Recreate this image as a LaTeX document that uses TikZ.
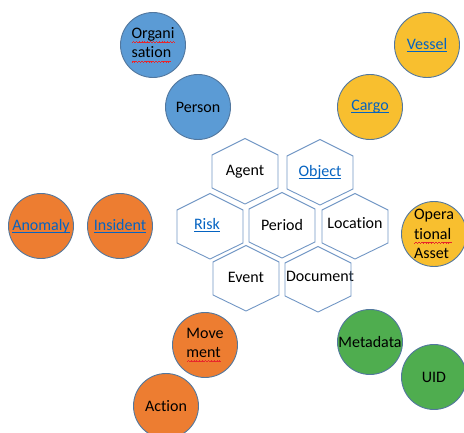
\documentclass[tikz,border=0pt]{standalone}
\usepackage{fontspec}
\setmainfont{Carlito}[Ligatures=NoCommon]

\definecolor{blueball}{HTML}{5B9BD5}
\definecolor{orangeball}{HTML}{ED7D31}
\definecolor{goldball}{HTML}{F8BF2F}
\definecolor{greenball}{HTML}{4FAD4F}
\definecolor{ringline}{HTML}{52779E}
\definecolor{hexline}{HTML}{7196C4}
\definecolor{linkblue}{HTML}{0563C1}
\definecolor{typored}{HTML}{E8262B}

% red spelling wave and link underline
\newcommand\wavebit{\hbox{\rule[-4.6pt]{0.7pt}{0.75pt}\rule[-4.0pt]{0.7pt}{0.75pt}\rule[-3.4pt]{0.7pt}{0.75pt}\rule[-4.0pt]{0.7pt}{0.75pt}}}
\newcommand\typo[1]{\setbox0\hbox{#1}\rlap{\textcolor{typored}{\hbox to\wd0{\xleaders\wavebit\hfill}}}\box0}
\newcommand\link[1]{\setbox0\hbox{#1}\textcolor{linkblue}{\rlap{\rule[-2.6pt]{\wd0}{1.1pt}}\box0}}

\tikzset{
  ball/.style={circle, draw=ringline, line width=0.9pt, fill=#1, minimum size=65pt, inner sep=0pt},
  cell/.style={inner sep=0pt},
  cellline/.style={draw=hexline, line width=0.9pt}
}

\begin{document}
\begin{tikzpicture}[x=1pt, y=-1pt, every node/.style={font=\fontsize{16}{19.5}\selectfont}]
\useasboundingbox (0,0) rectangle (464,433);

% middle cells
\node[cell] (agent) at (245,172) {Agent};
\node[cell] (object) at (320,172) {\link{Object}};
\node[cell] (risk) at (207,225) {\link{Risk}};
\node[cell] (period) at (282,225) {Period};
\node[cell] (location) at (355,223) {Location};
\node[cell] (event) at (246,277) {Event};
\node[cell] (document) at (320,276) {Document};

\foreach \c/\x/\y in {agent/245/171,object/320/172,risk/210/226,period/282/225,location/355/226,event/246/278,document/318/279}
  \draw[cellline] (\x,\y) ++(0,-32.5) -- ++(33,16.5) -- ++(0,33) -- ++(-33,16) -- ++(-33,-16) -- ++(0,-33) -- cycle;

% agents
\node[ball=blueball, label={[align=left]center:\typo{Organi}\\\typo{sation}}] (organisation) at (153,45) {};
\node[ball=blueball] (person) at (198,107) {Person};

% objects
\node[ball=goldball] (vessel) at (427,45) {\link{Vessel}};
\node[ball=goldball] (cargo) at (370,107) {\link{Cargo}};
\node[ball=goldball, label={[align=left]center:Opera\\\typo{tional}\\Asset}] (asset) at (434,234) {};

% risks and events
\node[ball=orangeball] (anomaly) at (41,226) {\link{Anomaly}};
\node[ball=orangeball] (insident) at (120,226) {\link{Insident}};
\node[ball=orangeball, label={[align=left]center:Move\\\typo{ment}}] (movement) at (205,345) {};
\node[ball=orangeball] (action) at (166,406) {Action};

% documents
\node[ball=greenball] (metadata) at (370,342) {Metadata};
\node[ball=greenball] (uid) at (434,377) {UID};

\end{tikzpicture}
\end{document}
